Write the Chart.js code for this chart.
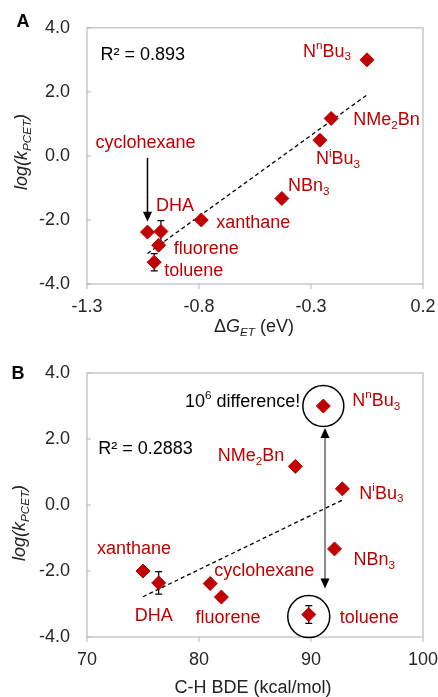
<!DOCTYPE html>
<html>
<head>
<meta charset="utf-8">
<script src="https://cdn.jsdelivr.net/npm/chart.js@4.4.1/dist/chart.umd.min.js"></script>
<style>
  body { margin: 0; background: #fff; }
  #wrap { position: relative; width: 438px; height: 697px; }
  canvas { position: absolute; left: 0; }
  #chartA { top: 0; }
  #chartB { top: 345px; }
</style>
</head>
<body>
<div id="wrap">
  <canvas id="chartA" width="438" height="345"></canvas>
  <canvas id="chartB" width="438" height="352"></canvas>
</div>
<script>
// data, same compound order in every array
const compounds = ['NnBu3', 'NMe2Bn', 'NiBu3', 'NBn3', 'xanthane', 'cyclohexane', 'DHA', 'fluorene', 'toluene'];
const compoundLabels = ['N^{n}Bu_{3}', 'NMe_{2}Bn', 'N^{i}Bu_{3}', 'NBn_{3}', 'xanthane', 'cyclohexane', 'DHA', 'fluorene', 'toluene'];
const deltaGET = [-0.05, -0.21, -0.26, -0.43, -0.79, -1.03, -0.97, -0.98, -1.00];
const bdeCH = [91.1, 88.6, 92.8, 92.1, 75.0, 81.0, 76.4, 82.0, 89.8];
const logKPCET = [3.0, 1.17, 0.49, -1.33, -2.0, -2.38, -2.36, -2.79, -3.32];
const logKErr = [0, 0, 0, 0, 0, 0, 0.34, 0.1, 0.27];

const fitAX = [-1.03, -0.045];
const fitAY = [-3.05, 1.93];
const fitBX = [75.0, 92.8];
const fitBY = [-2.78, 0.15];

const xTicksA = [-1.3, -0.8, -0.3, 0.2];
const xTicksB = [70, 80, 90, 100];
const yTicks = [-4, -2, 0, 2, 4];

const FONT = '"Liberation Sans", Arial, sans-serif';
const RED = '#c00000';

// mini markup: ^{sup} _{sub} ~{italic} @{italic sub}
function parseRich(s) {
    const out = [];
    const re = /([\^_~@])\{([^}]*)\}|([^\^_~@]+)/g;
    let m;
    while ((m = re.exec(s))) {
        if (m[1]) out.push({ t: m[2], k: m[1] });
        else out.push({ t: m[3], k: '' });
    }
    return out;
}

function drawRich(ctx, s, x, y, o) {
    const size = o.size || 18;
    const segs = parseRich(s).map(seg => {
        const small = seg.k === '^' || seg.k === '_' || seg.k === '@';
        const ital = o.italic || seg.k === '~' || seg.k === '@';
        const px = small ? size * 0.65 : size;
        let dy = 0;
        if (seg.k === '^') dy = -size * 0.32;
        if (seg.k === '_' || seg.k === '@') dy = size * 0.3;
        const font = (ital ? 'italic ' : '') + px + 'px ' + FONT;
        ctx.font = font;
        return { t: seg.t, font, dy, w: ctx.measureText(seg.t).width };
    });
    const total = segs.reduce((a, s2) => a + s2.w, 0);
    let cx = x;
    if (o.align === 'right') cx = x - total;
    else if (o.align === 'center') cx = x - total / 2;
    ctx.fillStyle = o.color || '#000';
    ctx.textBaseline = 'middle';
    ctx.textAlign = 'left';
    segs.forEach(s2 => {
        ctx.font = s2.font;
        ctx.fillText(s2.t, cx, y + s2.dy);
        cx += s2.w;
    });
}

function drawArrowHead(ctx, x, tipY, dir) {
    // dir = 1 pointing down, -1 pointing up
    ctx.beginPath();
    ctx.moveTo(x, tipY);
    ctx.lineTo(x - 4.5, tipY - dir * 10);
    ctx.lineTo(x + 4.5, tipY - dir * 10);
    ctx.closePath();
    ctx.fillStyle = '#000';
    ctx.fill();
}

const decorPlugin = {
    id: 'decor',
    beforeDatasetsDraw(chart, args, opts) {
        const ctx = chart.ctx;
        const a = chart.chartArea;
        const sx = chart.scales.x, sy = chart.scales.y;
        ctx.save();
        // plot box
        ctx.strokeStyle = '#c9c9c9';
        ctx.lineWidth = 1.5;
        ctx.strokeRect(a.left, a.top, a.right - a.left, a.bottom - a.top);
        // tick marks
        ctx.lineWidth = 1;
        ctx.strokeStyle = '#b5b5b5';
        sx.ticks.forEach(t => {
            const px = sx.getPixelForValue(t.value);
            ctx.beginPath();
            ctx.moveTo(px, a.bottom);
            ctx.lineTo(px, a.bottom + 5);
            ctx.stroke();
        });
        sy.ticks.forEach(t => {
            const py = sy.getPixelForValue(t.value);
            ctx.beginPath();
            ctx.moveTo(a.left, py);
            ctx.lineTo(a.left + 4, py);
            ctx.stroke();
        });
        // error bars
        ctx.strokeStyle = '#000';
        ctx.lineWidth = 1.2;
        opts.xs.forEach((xv, i) => {
            if (!logKErr[i]) return;
            const px = sx.getPixelForValue(xv);
            const top = sy.getPixelForValue(logKPCET[i] + logKErr[i]);
            const bot = sy.getPixelForValue(logKPCET[i] - logKErr[i]);
            ctx.beginPath();
            ctx.moveTo(px, top); ctx.lineTo(px, bot);
            ctx.moveTo(px - 3.5, top); ctx.lineTo(px + 3.5, top);
            ctx.moveTo(px - 3.5, bot); ctx.lineTo(px + 3.5, bot);
            ctx.stroke();
        });
        ctx.restore();
    },
    afterDatasetsDraw(chart, args, opts) {
        const ctx = chart.ctx;
        const sx = chart.scales.x, sy = chart.scales.y;
        ctx.save();
        // compound labels
        opts.xs.forEach((xv, i) => {
            const off = opts.labelOffsets[compounds[i]];
            const px = sx.getPixelForValue(xv) + off[0];
            const py = sy.getPixelForValue(logKPCET[i]) + off[1];
            drawRich(ctx, compoundLabels[i], px, py, { align: off[2], color: RED });
        });
        // R squared
        drawRich(ctx, opts.rText.text, sx.getPixelForValue(opts.rText.x), sy.getPixelForValue(opts.rText.y), { align: 'left' });
        // note beside a point
        if (opts.note) {
            const i = compounds.indexOf(opts.note.of);
            drawRich(ctx, opts.note.text, sx.getPixelForValue(opts.xs[i]) + opts.note.dx,
                sy.getPixelForValue(logKPCET[i]) + opts.note.dy, { align: 'right' });
        }
        // circles
        ctx.strokeStyle = '#000';
        ctx.lineWidth = 1.5;
        opts.circles.forEach(c => {
            const i = compounds.indexOf(c.of);
            ctx.beginPath();
            ctx.arc(sx.getPixelForValue(opts.xs[i]), sy.getPixelForValue(logKPCET[i]) + (c.dy || 0), c.r, 0, Math.PI * 2);
            ctx.stroke();
        });
        // arrows
        opts.arrows.forEach(ar => {
            const px = sx.getPixelForValue(ar.x);
            const y1 = sy.getPixelForValue(ar.y1);
            const y2 = sy.getPixelForValue(ar.y2);
            ctx.strokeStyle = ar.line;
            ctx.lineWidth = 1.5;
            ctx.beginPath();
            ctx.moveTo(px, ar.both ? y1 + 8 : y1);
            ctx.lineTo(px, y2 - 8);
            ctx.stroke();
            drawArrowHead(ctx, px, y2, 1);
            if (ar.both) drawArrowHead(ctx, px, y1, -1);
        });
        // axis titles
        drawRich(ctx, opts.xTitle.text, opts.xTitle.x, opts.xTitle.y, { align: 'center', color: '#222' });
        ctx.save();
        ctx.translate(opts.yTitle.x, opts.yTitle.y);
        ctx.rotate(-Math.PI / 2);
        drawRich(ctx, 'log(k_{PCET})', 0, 0, { align: 'center', italic: true, color: '#222' });
        ctx.restore();
        // panel letter
        ctx.font = 'bold 18px ' + FONT;
        ctx.fillStyle = '#000';
        ctx.textAlign = 'center';
        ctx.textBaseline = 'middle';
        ctx.fillText(opts.letter.text, opts.letter.x, opts.letter.y);
        ctx.restore();
    }
};

function makeChart(id, cfg) {
    return new Chart(document.getElementById(id), {
        type: 'scatter',
        data: {
            datasets: [
                {
                    data: cfg.xs.map((x, i) => ({ x: x, y: logKPCET[i] })),
                    pointStyle: 'rectRot',
                    pointRadius: 7,
                    backgroundColor: RED,
                    borderColor: RED,
                    borderWidth: 1,
                    order: 0,
                },
                {
                    type: 'line',
                    data: cfg.fitX.map((x, i) => ({ x: x, y: cfg.fitY[i] })),
                    borderColor: '#000',
                    borderWidth: 1.3,
                    borderDash: [4, 3],
                    pointRadius: 0,
                    fill: false,
                    order: 1,
                },
            ],
        },
        options: {
            responsive: false,
            animation: false,
            layout: { padding: { top: cfg.padTop, right: 15, left: 0, bottom: 0 } },
            plugins: {
                legend: { display: false },
                tooltip: { enabled: false },
                decor: cfg,
            },
            scales: {
                x: {
                    type: 'linear',
                    min: cfg.xTicks[0],
                    max: cfg.xTicks[cfg.xTicks.length - 1],
                    afterBuildTicks: s => { s.ticks = cfg.xTicks.map(v => ({ value: v })); },
                    afterFit: s => { s.height = cfg.xAxisH; s.paddingLeft = 0; s.paddingRight = 0; },
                    grid: { display: false, drawTicks: false },
                    border: { display: false },
                    ticks: {
                        font: { family: FONT, size: 18 },
                        color: '#262626',
                        padding: 12,
                        autoSkip: false,
                        maxRotation: 0,
                        callback: cfg.xFmt,
                    },
                },
                y: {
                    min: -4,
                    max: 4,
                    afterBuildTicks: s => { s.ticks = yTicks.map(v => ({ value: v })); },
                    afterFit: s => { s.width = 87; },
                    grid: { display: false, drawTicks: false },
                    border: { display: false },
                    ticks: {
                        font: { family: FONT, size: 18 },
                        color: '#262626',
                        padding: 17,
                        callback: v => v.toFixed(1),
                    },
                },
            },
        },
        plugins: [decorPlugin],
    });
}

makeChart('chartA', {
    xs: deltaGET,
    fitX: fitAX,
    fitY: fitAY,
    xTicks: xTicksA,
    xFmt: v => v.toFixed(1),
    padTop: 20,
    xAxisH: 61,
    labelOffsets: {
        NnBu3: [-16, -8, 'right'],
        NMe2Bn: [22, 2, 'left'],
        NiBu3: [-4, 19, 'left'],
        NBn3: [6, -12, 'left'],
        xanthane: [15, 3, 'left'],
        cyclohexane: [-52, -89, 'left'],
        DHA: [-5, -25, 'left'],
        fluorene: [15, 4, 'left'],
        toluene: [10, 9, 'left'],
    },
    rText: { x: -1.24, y: 3.15, text: 'R² = 0.893' },
    note: null,
    circles: [],
    arrows: [{ x: -1.03, y1: -0.06, y2: -2.06, line: '#000' }],
    xTitle: { text: 'Δ~{G}@{ET} (eV)', x: 254, y: 327 },
    yTitle: { x: 22, y: 152 },
    letter: { text: 'A', x: 23, y: 22 },
});

makeChart('chartB', {
    xs: bdeCH,
    fitX: fitBX,
    fitY: fitBY,
    xTicks: xTicksB,
    xFmt: v => String(v),
    padTop: 28,
    xAxisH: 60,
    labelOffsets: {
        NnBu3: [29, -5, 'left'],
        NMe2Bn: [-11, -10, 'right'],
        NiBu3: [17, 5, 'left'],
        NBn3: [19, 11, 'left'],
        xanthane: [-46, -22, 'left'],
        cyclohexane: [4, -13, 'left'],
        DHA: [-5, 33, 'center'],
        fluorene: [-26, 21, 'left'],
        toluene: [31, 3, 'left'],
    },
    rText: { x: 71.0, y: 1.69, text: 'R² = 0.2883' },
    note: { of: 'NnBu3', text: '10^{6} difference!', dx: -23, dy: -4 },
    circles: [{ of: 'NnBu3', r: 20.5, dy: 0 }, { of: 'toluene', r: 21, dy: 2 }],
    arrows: [{ x: 91.25, y1: 2.33, y2: -2.53, line: '#666', both: true }],
    xTitle: { text: 'C-H BDE (kcal/mol)', x: 253, y: 343 },
    yTitle: { x: 20, y: 178 },
    letter: { text: 'B', x: 18, y: 29 },
});
</script>
</body>
</html>
